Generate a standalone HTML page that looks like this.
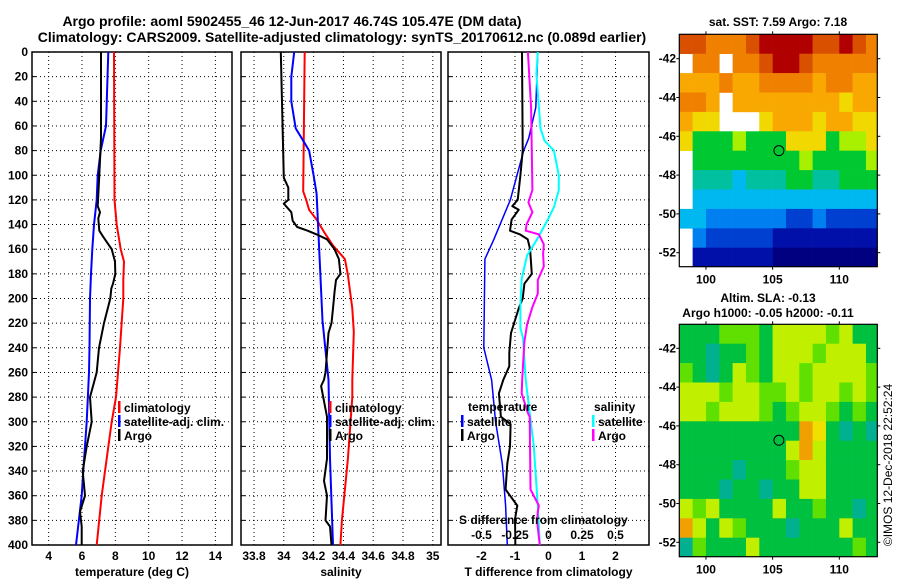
<!DOCTYPE html>
<html><head><meta charset="utf-8"><style>
html,body{margin:0;padding:0;background:#fff;}
svg{display:block;font-family:"Liberation Sans",sans-serif;}
.b{font-weight:bold;font-size:12px;}
</style></head><body>
<svg id="chart" width="900" height="580" viewBox="0 0 900 580" xmlns="http://www.w3.org/2000/svg">
<rect width="900" height="580" fill="#fff"/>
<text x="292" y="26" class="b" text-anchor="middle" style="font-size:14px">Argo profile: aoml 5902455_46 12-Jun-2017 46.74S 105.47E (DM data)</text>
<text x="342" y="42" class="b" text-anchor="middle" style="font-size:14px">Climatology: CARS2009. Satellite-adjusted climatology: synTS_20170612.nc (0.089d earlier)</text>
<g id="g1"></g>
<g id="g2"></g>
<g id="g3"></g>
<g id="m1"></g>
<g id="m2"></g>
<text x="778" y="26" class="b" text-anchor="middle">sat. SST: 7.59 Argo: 7.18</text>
<text x="768" y="302" class="b" text-anchor="middle">Altim. SLA: -0.13</text>
<text x="768" y="317" class="b" text-anchor="middle">Argo h1000: -0.05 h2000: -0.11</text>
<text transform="translate(892,465) rotate(-90)" text-anchor="middle" font-size="12">©IMOS 12-Dec-2018 22:52:24</text>
</svg>
<script>
// ---- data ----
const depthTicks=[0,20,40,60,80,100,120,140,160,180,200,220,240,260,280,300,320,340,360,380,400];
const tTicks=[4,6,8,10,12,14];
const sTicks=[33.8,34,34.2,34.4,34.6,34.8,35];
const sTickLabels=["33.8","34","34.2","34.4","34.6","34.8","35"];
const dtTicks=[-2,-1,0,1,2];
const dsTicks=[-0.5,-0.25,0,0.25,0.5];
const dsTickLabels=["-0.5","-0.25","0","0.25","0.5"];

const t_clim_d=[0,120,140,160,170,185,200,240,280,300,340,360,400];
const t_clim=[7.92,7.95,8.08,8.32,8.52,8.48,8.48,8.28,8.04,7.78,7.38,7.18,6.88];
const t_sat_d=[0,60,80,100,120,140,160,180,200,240,260,300,340,360,400];
const t_sat=[7.58,7.44,7.12,6.94,6.88,6.72,6.62,6.54,6.48,6.45,6.42,6.28,6.08,5.98,5.64];
const t_argo_d=[0,70,100,125,130,135,145,150,160,170,180,188,192,200,220,240,260,280,300,320,340,360,373,385,400];
const t_argo=[7.14,7.14,7.04,6.94,7.08,6.98,7.04,7.28,7.78,7.98,8.0,7.86,7.76,7.7,7.32,7.02,6.88,6.48,6.58,6.28,6.04,6.18,5.88,5.98,5.98];

const s_clim_d=[0,113,120,128,136,146,157,168,181,208,227,266,280,330,380,400];
const s_clim=[34.14,34.13,34.15,34.17,34.22,34.27,34.33,34.41,34.43,34.46,34.47,34.46,34.46,34.43,34.39,34.38];
const s_sat_d=[0,20,40,62,72,80,100,115,218,266,330,400];
const s_sat=[34.07,34.05,34.05,34.08,34.13,34.17,34.2,34.22,34.26,34.3,34.31,34.33];
const s_argo_d=[0,102,110,120,123,130,137,142,145,148,152,160,168,180,185,195,208,220,228,260,266,271,296,330,348,360,380,385,400];
const s_argo=[33.98,34.0,34.03,34.03,34.0,34.05,34.06,34.09,34.16,34.22,34.29,34.34,34.37,34.38,34.35,34.34,34.33,34.32,34.3,34.28,34.27,34.25,34.29,34.29,34.27,34.29,34.28,34.31,34.32];

const dt_sat_d=[0,45,70,80,120,152,168,240,266,300,334,368,400];
const dt_sat=[-0.32,-0.38,-0.59,-0.74,-1.14,-1.63,-1.9,-1.93,-1.7,-1.58,-1.38,-1.28,-1.23];
const dt_argo_d=[0,80,100,120,125,128,136,145,148,152,160,180,188,200,208,228,244,255,266,277,296,302,320,334,355,368,379,393,400];
const dt_argo=[-0.79,-0.77,-0.84,-0.92,-1.08,-0.89,-1.1,-1.15,-0.85,-0.62,-0.55,-0.5,-0.72,-0.77,-0.89,-1.12,-1.17,-1.17,-1.35,-1.48,-1.42,-1.13,-1.15,-1.23,-1.28,-0.93,-1.0,-0.99,-0.99];
const ds_sat_d=[0,18,62,72,80,100,112,126,136,152,165,184,205,224,232,266,320,368,400];
const ds_sat=[-0.08,-0.09,-0.06,-0.03,0.04,0.077,0.077,0.04,-0.005,-0.085,-0.16,-0.2,-0.21,-0.21,-0.19,-0.17,-0.11,-0.08,-0.065];
const ds_argo_d=[0,45,112,122,130,140,145,148,156,164,174,185,196,207,221,235,266,277,293,296,355,368,373,381,400];
const ds_argo=[-0.154,-0.13,-0.12,-0.15,-0.12,-0.164,-0.17,-0.072,-0.035,-0.04,-0.035,-0.08,-0.08,-0.12,-0.16,-0.18,-0.196,-0.2,-0.154,-0.14,-0.134,-0.072,-0.08,-0.085,-0.065];

const lonTicks=[100,105,110];
const latTicks=[-42,-44,-46,-48,-50,-52];
const sstPalette=["#000080","#0010a8","#0040d0","#0080f0","#00b8f0","#00c0a0","#00c830","#a8f000","#f0d800","#f8a800","#f08000","#d85000","#b00000"];
const sstGrid=[
[11,11,10,10,10,11,12,12,12,12,11,11,12,11,10],
[-1,10,10,-1,10,10,11,12,12,11,10,10,10,10,10],
[9,9,9,10,9,9,10,10,10,10,9,10,10,9,9],
[10,10,9,-1,9,9,9,9,9,9,9,9,8,9,9],
[9,8,8,-1,-1,-1,8,9,9,9,8,9,9,8,8],
[8,6,6,6,7,6,6,6,8,8,8,6,7,7,8],
[-1,6,6,6,6,6,6,6,6,7,6,6,6,6,7],
[-1,5,5,5,4,5,5,5,6,6,5,5,6,6,6],
[-1,4,4,4,4,4,4,4,4,4,4,4,4,4,4],
[4,4,3,3,3,3,3,3,2,2,3,2,2,2,2],
[-1,3,2,2,2,2,2,1,1,1,1,1,1,1,1],
[-1,1,1,1,1,1,1,0,0,0,0,0,0,0,0]];
const slaPalette=["#00c8d0","#00b090","#00c040","#60e000","#c0f000","#f0e000","#f0a000","#e06000"];
const slaGrid=[
[2,2,2,3,3,3,2,4,4,4,4,3,4,2,2],
[2,2,1,2,2,3,2,4,4,4,3,4,4,4,2],
[3,2,1,2,4,3,2,4,4,3,4,4,4,4,3],
[4,4,4,3,4,4,3,3,4,3,4,4,3,4,3],
[4,4,3,4,4,4,3,2,3,4,4,3,2,3,2],
[2,2,2,2,2,2,2,2,2,6,5,2,1,2,1],
[2,2,2,2,2,2,2,2,4,6,4,2,2,2,2],
[2,2,2,2,1,2,2,2,3,4,4,2,2,2,2],
[2,2,2,1,2,2,1,2,2,4,4,2,2,2,2],
[4,3,4,2,2,2,2,4,2,2,3,2,2,1,2],
[6,4,2,4,3,2,2,2,1,2,2,2,4,2,2],
[1,3,2,2,2,4,2,2,2,2,2,2,2,3,2]];
const argoLon=105.47, argoLat=-46.74;

// ---- helpers ----
const NS="http://www.w3.org/2000/svg";
function mk(parent,tag,attrs,txt){const e=document.createElementNS(NS,tag);for(const k in attrs)e.setAttribute(k,attrs[k]);if(txt!==undefined)e.textContent=txt;parent.appendChild(e);return e;}
const PT=52,PB=545;
const yD=d=>PT+(PB-PT)*d/400;

function panel(g,x0,x1,xmin,xmax,xticks,xlabels,showY,xtitle){
  const sx=v=>x0+(x1-x0)*(v-xmin)/(xmax-xmin);
  depthTicks.forEach(d=>{
    const l=mk(g,'line',{x1:x0,x2:x1,y1:yD(d),y2:yD(d),stroke:'#000','stroke-width':1,'stroke-dasharray':'1,3'});
    
    
    const t=mk(g,'line',{x1:x0,x2:x0+4,y1:yD(d),y2:yD(d),stroke:'#000'});
    
    
    if(showY){const tl=mk(g,'text',{x:x0-4,y:yD(d)+4,'text-anchor':'end',class:'b'},String(d));
      
      }
  });
  xticks.forEach((v,i)=>{
    const l=mk(g,'line',{x1:sx(v),x2:sx(v),y1:PT,y2:PB,stroke:'#000','stroke-width':1,'stroke-dasharray':'1,3'});
    
    
    if(xlabels){const tl=mk(g,'text',{x:sx(v),y:560,'text-anchor':'middle',class:'b'},xlabels[i]);
      
      }
  });
  const fr=mk(g,'rect',{x:x0,y:PT,width:x1-x0,height:PB-PT,fill:'none',stroke:'#000','stroke-width':1.5});
  
  
  if(xtitle){const xt=mk(g,'text',{x:(x0+x1)/2,y:576,'text-anchor':'middle',class:'b'},xtitle);
    
    }
  return sx;
}
function series(g,sx,ds,vs,color,w,name){
  const pts=ds.map((d,i)=>sx(vs[i]).toFixed(1)+','+yD(d).toFixed(1)).join(' ');
  const p=mk(g,'polyline',{points:pts,fill:'none',stroke:color,'stroke-width':w,'stroke-linejoin':'round'});
  
  
}
function legend(g,x,y,color,label,name){
  const r=mk(g,'rect',{x:x,y:y-11,width:2.5,height:12,fill:color});
  
  
  const t=mk(g,'text',{x:x+6,y:y,class:'b'},label);
  
  
}

// panel 1
const g1=document.getElementById('g1');
const sx1=panel(g1,32,232,3,15,tTicks,tTicks.map(String),true,'temperature (deg C)');
series(g1,sx1,t_clim_d,t_clim,'#f00',2,'temperature-climatology-line');
series(g1,sx1,t_sat_d,t_sat,'#00f',2,'temperature-satellite-line');
series(g1,sx1,t_argo_d,t_argo,'#000',2,'temperature-argo-line');
legend(g1,118,412,'#f00','climatology','legend-climatology');
legend(g1,118,426,'#00f','satellite-adj. clim.','legend-satellite');
legend(g1,118,440,'#000','Argo','legend-argo');

// panel 2
const g2=document.getElementById('g2');
const sx2=panel(g2,241,441,33.8-13/149,33.8+187/149,sTicks,sTickLabels,false,'salinity');
series(g2,sx2,s_clim_d,s_clim,'#f00',2,'salinity-climatology-line');
series(g2,sx2,s_sat_d,s_sat,'#00f',2,'salinity-satellite-line');
series(g2,sx2,s_argo_d,s_argo,'#000',2,'salinity-argo-line');
legend(g2,329,412,'#f00','climatology','legend-climatology');
legend(g2,329,426,'#00f','satellite-adj. clim.','legend-satellite');
legend(g2,329,440,'#000','Argo','legend-argo');

// panel 3
const g3=document.getElementById('g3');
const sx3=panel(g3,448,649,-3,3,dtTicks,dtTicks.map(String),false,'T difference from climatology');
const sxS=v=>sx3(v*4);
series(g3,sx3,dt_sat_d,dt_sat,'#00f',1.5,'tdiff-satellite-line');
series(g3,sx3,dt_argo_d,dt_argo,'#000',2,'tdiff-argo-line');
series(g3,sxS,ds_sat_d,ds_sat,'#0ff',2,'sdiff-satellite-line');
series(g3,sxS,ds_argo_d,ds_argo,'#f0f',2,'sdiff-argo-line');
{const t=mk(g3,'text',{x:468,y:411,class:'b'},'temperature');}
{const t=mk(g3,'text',{x:594,y:411,class:'b'},'salinity');}
legend(g3,461,426,'#00f','satellite','legend-t-satellite');
legend(g3,461,440,'#000','Argo','legend-t-argo');
legend(g3,592,426,'#0ff','satellite','legend-s-satellite');
legend(g3,592,440,'#f0f','Argo','legend-s-argo');
{const t=mk(g3,'text',{x:459,y:524,class:'b'},'S difference from climatology');}
dsTicks.forEach((v,i)=>{const t=mk(g3,'text',{x:sxS(v),y:539,'text-anchor':'middle',class:'b'},dsTickLabels[i]);
  
  });

// maps
function map(g,top,bottom,lat42,lat52,grid,pal,name){
  const L=679.3,R=877.3,lonMin=98,lonMax=112.85;
  const sx=lon=>L+(R-L)*(lon-lonMin)/(lonMax-lonMin);
  const pxLat=(lat52-lat42)/10;
  const syy=lat=>lat42+(-42-lat)*pxLat;
  const latTop=-42+(lat42-top)/pxLat;
  const latBot=-42-(bottom-lat42)/pxLat;
  grid.forEach((row,r)=>{row.forEach((v,c)=>{
    if(v<0)return;
    const la0=latTop-r, la1=Math.max(latTop-r-1,latBot);
    const lo0=lonMin+c, lo1=Math.min(lonMin+c+1,lonMax);
    const cell=mk(g,'rect',{x:sx(lo0),y:syy(la0),width:sx(lo1)-sx(lo0)+0.3,height:syy(la1)-syy(la0)+0.3,fill:pal[v]});
    
    
  });});
  const fr=mk(g,'rect',{x:L,y:top,width:R-L,height:bottom-top,fill:'none',stroke:'#000','stroke-width':1.2});
  
  
  lonTicks.forEach(v=>{
    mk(g,'line',{x1:sx(v),x2:sx(v),y1:top,y2:top-3,stroke:'#000'});
    mk(g,'line',{x1:sx(v),x2:sx(v),y1:bottom,y2:bottom+3,stroke:'#000'});
    const t=mk(g,'text',{x:sx(v),y:bottom+17,'text-anchor':'middle',class:'b'},String(v));
    
    
  });
  latTicks.forEach(v=>{
    mk(g,'line',{x1:R,x2:R+3,y1:syy(v),y2:syy(v),stroke:'#000'});
    mk(g,'line',{x1:L,x2:L-3,y1:syy(v),y2:syy(v),stroke:'#000'});
    const t=mk(g,'text',{x:676,y:syy(v)+4,'text-anchor':'end',class:'b'},String(v));
    
    
  });
  const c=mk(g,'circle',{cx:sx(argoLon),cy:syy(argoLat),r:5,fill:'none',stroke:'#000','stroke-width':1});
  
  
}
map(document.getElementById('m1'),34.3,266.7,58.7,252.7,sstGrid,sstPalette,'sst-map');
map(document.getElementById('m2'),324.3,556.7,348.3,542.3,slaGrid,slaPalette,'sla-map');
</script>
</body></html>
